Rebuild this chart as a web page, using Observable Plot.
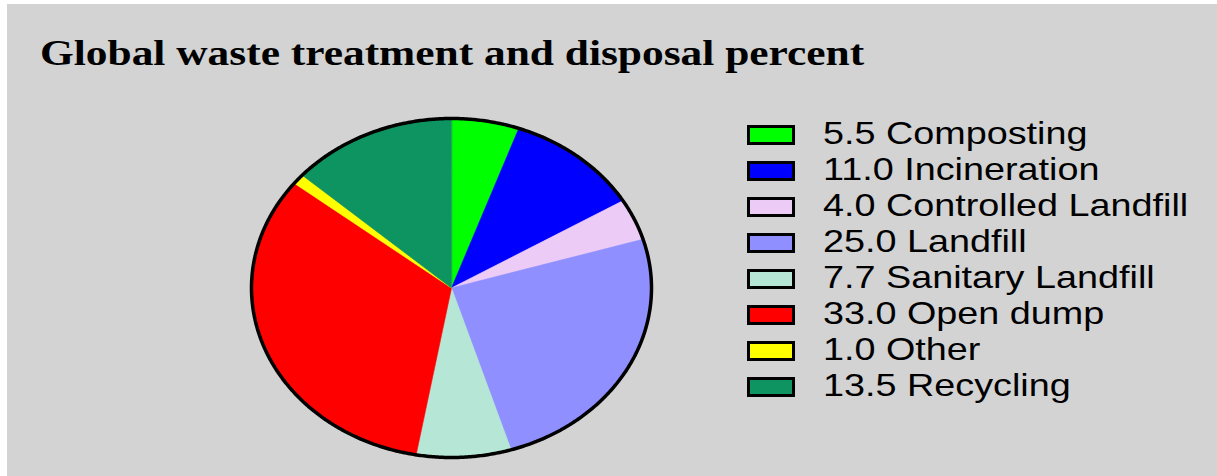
<!DOCTYPE html>
<html>
<head>
<meta charset="utf-8">
<script src="https://cdn.jsdelivr.net/npm/d3@7"></script>
<script src="https://cdn.jsdelivr.net/npm/@observablehq/plot@0.6"></script>
<style>
  html, body { margin: 0; padding: 0; background: #ffffff; width: 1217px; height: 476px; overflow: hidden; }
  #panel { position: absolute; left: 7px; top: 4px; width: 1210px; height: 472px; background: #d3d3d3; }
  #chart { position: absolute; left: 0; top: 0; }
  #title { position: absolute; left: 40px; top: 35.5px; font: bold 35px "Liberation Serif", "Times New Roman", serif;
           line-height: 35px; white-space: nowrap; color: #000; transform: scaleX(1.24); transform-origin: 0 0; }
  .sw { position: absolute; left: 747px; width: 48px; height: 20px; box-sizing: border-box; border: 3px solid #000; }
  .lab { position: absolute; left: 823px; font: 32px "Liberation Sans", Arial, sans-serif; line-height: 32px;
         white-space: nowrap; color: #000; transform: scaleX(1.18); transform-origin: 0 0; }
</style>
</head>
<body>
<div id="panel"></div>
<div id="chart"></div>
<div id="title"></div>
<div id="legend"></div>
<script>
const titleText = "Global waste treatment and disposal percent";
const categories = ["Composting", "Incineration", "Controlled Landfill", "Landfill", "Sanitary Landfill", "Open dump", "Other", "Recycling"];
const values = [5.5, 11.0, 4.0, 25.0, 7.7, 33.0, 1.0, 13.5];
const colors = ["#00ff00", "#0000ff", "#ecccf6", "#8f8fff", "#b6e6d6", "#ff0000", "#ffff00", "#0d9460"];

document.getElementById("title").textContent = titleText;

// pie layout: start at 12 o'clock, clockwise
const total = d3.sum(values);
const slices = [];
let acc = 0;
categories.forEach((name, i) => {
  const a0 = acc / total * 2 * Math.PI;
  acc += values[i];
  const a1 = acc / total * 2 * Math.PI;
  const n = Math.max(2, Math.ceil((a1 - a0) / (Math.PI / 360)));
  slices.push({name, x: 0, y: 0});
  for (let k = 0; k <= n; k++) {
    const a = a0 + (a1 - a0) * k / n;
    slices.push({name, x: Math.sin(a), y: Math.cos(a)});
  }
});
const outline = d3.range(0, 720).map(k => {
  const a = k / 720 * 2 * Math.PI;
  return {x: Math.sin(a), y: Math.cos(a)};
});

const cx = 451, cy = 287.5, rx = 200, ry = 169.5;

const plot = Plot.plot({
  width: 1217,
  height: 476,
  margin: 0,
  style: {background: "transparent", overflow: "visible"},
  x: {domain: [-1, 1], range: [cx - rx, cx + rx], axis: null},
  y: {domain: [-1, 1], range: [cy + ry, cy - ry], axis: null},
  color: {domain: categories, range: colors},
  marks: [
    Plot.line(slices, {x: "x", y: "y", z: "name", fill: "name", stroke: "name", strokeWidth: 0.6, curve: "linear-closed"}),
    Plot.line(outline, {x: "x", y: "y", stroke: "#000", strokeWidth: 3.5, fill: "none", curve: "linear-closed"})
  ]
});
document.getElementById("chart").appendChild(plot);

// legend using the plot's color scale
const color = plot.scale("color");
const legend = d3.select("#legend");
categories.forEach((name, i) => {
  legend.append("div").attr("class", "sw")
    .style("top", (125 + 36 * i) + "px")
    .style("background", color.range[color.domain.indexOf(name)]);
  legend.append("div").attr("class", "lab")
    .style("top", (117.2 + 36 * i) + "px")
    .text(`${values[i].toFixed(1)} ${name}`);
});
</script>
</body>
</html>
